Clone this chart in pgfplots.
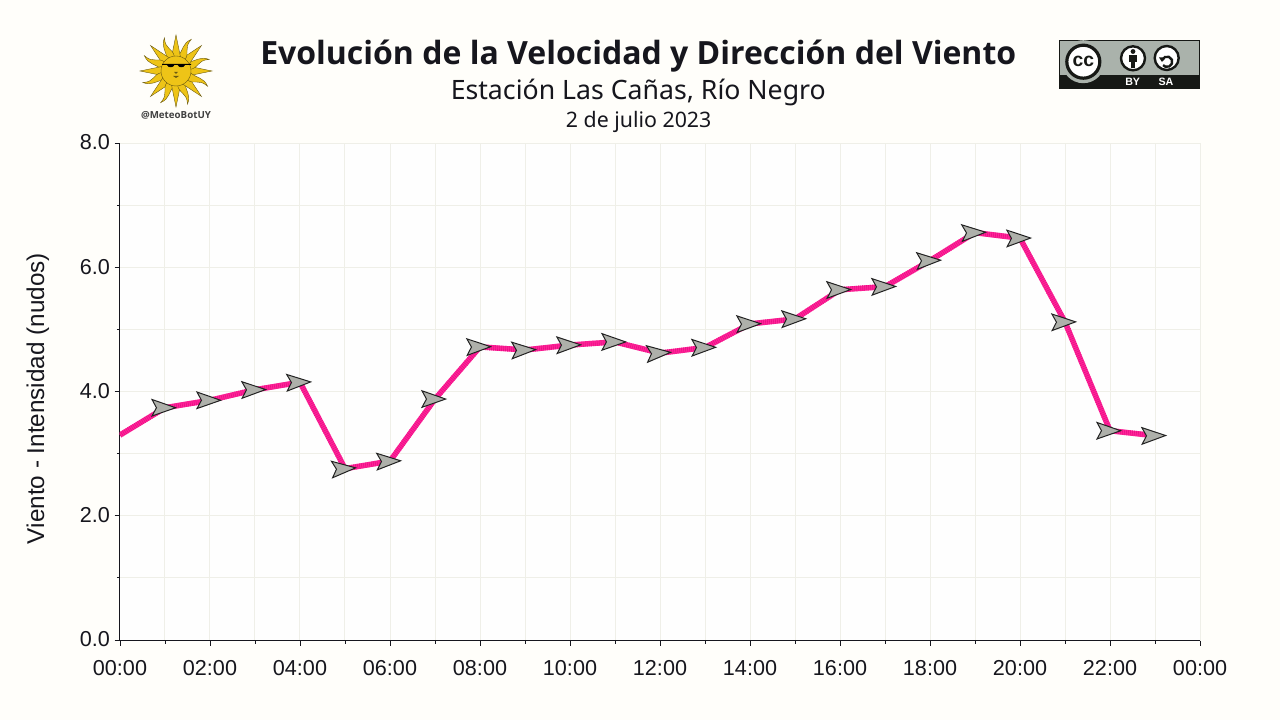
\documentclass[border=0pt]{standalone}
\usepackage{fontspec}
\setmainfont{Liberation Sans}
\newfontfamily\notosans{Noto Sans}
\newfontfamily\opensans{Open Sans}
\usepackage{pgfplots}
\usepackage{pgfplotstable}
\pgfplotsset{compat=1.18}

\definecolor{bgpage}{HTML}{FFFEFA}
\definecolor{bgplot}{HTML}{FEFEFE}
\definecolor{gridc}{HTML}{EFEFE8}
\definecolor{inkc}{HTML}{16161D}
\definecolor{windline}{HTML}{FF2498}
\definecolor{windstripe}{HTML}{EA0F86}
\definecolor{arrowfill}{HTML}{AEB0AA}
\definecolor{arrowedge}{HTML}{222222}
\definecolor{sunfill}{HTML}{EEC417}
\definecolor{sunedge}{HTML}{6B5A10}
\definecolor{ccgrey}{HTML}{AAB2AB}
\definecolor{ccdark}{HTML}{161815}

% hour, wind speed (knots), arrow angle (deg)
\pgfplotstableread{
h val ang
0 3.30 0
1 3.74 0
2 3.86 0
3 4.03 1
4 4.15 2
5 2.76 4
6 2.88 2
7 3.88 0
8 4.72 1
9 4.67 2
10 4.75 1
11 4.80 0
12 4.62 4
13 4.71 1
14 5.09 1
15 5.17 1
16 5.64 1
17 5.69 1
18 6.11 2
19 6.56 2
20 6.47 1
21 5.12 1
22 3.37 0
23 3.29 1
}\windtable

\pgfdeclareplotmark{windarrow}{%
  \pgftransformrotate{\ang}%
  \pgfsetlinewidth{0.75pt}%
  \pgfsetfillcolor{arrowfill}%
  \pgfsetstrokecolor{arrowedge}%
  \pgfsetmiterjoin
  \pgfpathmoveto{\pgfqpoint{8.0pt}{0pt}}%
  \pgfpathlineto{\pgfqpoint{-9.75pt}{6.2pt}}%
  \pgfpathlineto{\pgfqpoint{-6.4pt}{0pt}}%
  \pgfpathlineto{\pgfqpoint{-9.75pt}{-6.2pt}}%
  \pgfpathclose
  \pgfusepathqfillstroke
}

\begin{document}
\begin{tikzpicture}
\fill[bgpage] (0,0) rectangle (960pt,540pt);
\useasboundingbox (0,0) rectangle (960pt,540pt);

\begin{axis}[
    at={(89.625pt,59.25pt)}, anchor=south west,
    scale only axis,
    width=810.375pt, height=373.35pt,
    xmin=-0.011, xmax=24,
    ymin=-0.016, ymax=8,
    axis x line=bottom, axis y line=left,
    axis line style={-, inkc, line width=0.75pt},
    axis background/.style={fill=bgplot},
    xtick={0,2,...,24},
    xticklabels={00:00,02:00,04:00,06:00,08:00,10:00,12:00,14:00,16:00,18:00,20:00,22:00,00:00},
    ytick={0,2,4,6,8},
    minor tick num=1,
    grid=both,
    major grid style={gridc, line width=0.75pt},
    minor grid style={gridc, line width=0.75pt},
    tick align=outside,
    major tick length=3.75pt,
    minor tick length=2pt,
    tick style={inkc, line width=0.7pt},
    ticklabel style={font=\fontsize{16.2}{18}\selectfont, text=inkc},
    xticklabel style={yshift=-7pt},
    yticklabel style={yshift=0.6pt, /pgf/number format/.cd, fixed, fixed zerofill, precision=1, assume math mode=true},
    ylabel={Viento - Intensidad (nudos)},
    ylabel style={at={(axis description cs:-0.0755,0.487)}, anchor=center, font=\fontsize{18.2}{20}\selectfont, text=inkc},
]
\addplot[windline, line width=4.1pt, line join=round] table[x=h, y=val] {\windtable};
\addplot[windstripe, line width=4.1pt, line join=round, dash pattern=on 0.45pt off 1.05pt] table[x=h, y=val] {\windtable};
\addplot[only marks, scatter, mark=windarrow,
    skip coords between index={0}{1},
    visualization depends on={\thisrow{ang} \as \ang},
    ] table[x=h, y=val] {\windtable};
\end{axis}

% titles
\node[font=\opensans\bfseries\fontsize{24}{28}\selectfont, text=inkc, anchor=base] at (478.7pt,491.3pt) {Evolución de la Velocidad y Dirección del Viento};
\node[font=\notosans\fontsize{20}{24}\selectfont, text=inkc, anchor=base] at (478.7pt,465.7pt) {Estación Las Cañas, Río Negro};
\node[font=\notosans\fontsize{16}{20}\selectfont, text=inkc, anchor=base] at (479pt,444pt) {2 de julio 2023};

% sun logo
\begin{scope}[shift={(132pt,486.75pt)}, x=0.75pt, y=0.75pt]
  \foreach \a in {0,45,...,315} {
    \fill[sunfill, draw=sunedge, line width=0.3pt, rotate=\a]
      (14,-4.5) -- (36,0) -- (14,4.5) -- cycle;
    \fill[sunfill, draw=sunedge, line width=0.3pt, rotate=\a+22.5]
      (14,-4) .. controls (22,-6) and (24,2) .. (35,-2)
      .. controls (28,5) and (22,1) .. (14,4) -- cycle;
  }
  \fill[sunfill, draw=sunedge, line width=0.3pt] (0,0) circle (15);
  \fill[black] (-14,7) -- (15,7) -- (15,6) -- (9,6) .. controls (8,3) and (3,3) .. (1.5,6)
    -- (-1.5,6) .. controls (-3,3) and (-8,3) .. (-9,6) -- (-14,6) -- cycle;
  \fill[sunedge] (-3,-5) -- (3,-5) -- (0,-7) -- cycle;
  \fill[sunedge] (-2,-1) -- (2,-1) -- (0,-3) -- cycle;
\end{scope}
\node[font=\opensans\bfseries\fontsize{7.3}{9}\selectfont, text=black!75] at (132pt,453.5pt) {@MeteoBotUY};

% CC BY-SA badge
\begin{scope}[shift={(0pt,540pt)}, x=0.75pt, y=-0.75pt]
  \fill[ccgrey, draw=ccdark, line width=0.7pt] (1059.5,40.5) rectangle (1199.5,88.5);
  \fill[ccdark] (1059.5,75) rectangle (1199.5,88.5);
  \fill[ccgrey] (1083.3,61.7) circle (21.5);
  \fill[white, draw=ccdark, line width=2.4pt] (1083.3,61.7) circle (16.5);
  \fill[white, draw=ccdark, line width=1.8pt] (1133,58.3) circle (12);
  \fill[ccdark] (1133,51.5) circle (2.4);
  \fill[ccdark] (1128.8,54.8) rectangle (1137.2,62.5);
  \fill[ccdark] (1130.8,62.5) rectangle (1135.2,68);
  \fill[white, draw=ccdark, line width=1.8pt] (1166.7,58) circle (12);
  \draw[ccdark, line width=1.8pt] (1162.2,60) arc[start angle=200, end angle=500, radius=5.2];
  \fill[ccdark] (1159,57.5) -- (1165,57.5) -- (1162,62) -- cycle;
\end{scope}
\node[font=\bfseries\fontsize{14.5}{17}\selectfont, text=ccdark] at (812.5pt,494pt) {cc};
\node[font=\bfseries\fontsize{8}{10}\selectfont, text=white] at (849.5pt,478.5pt) {BY};
\node[font=\bfseries\fontsize{8}{10}\selectfont, text=white] at (874.5pt,478.5pt) {SA};
\end{tikzpicture}
\end{document}
